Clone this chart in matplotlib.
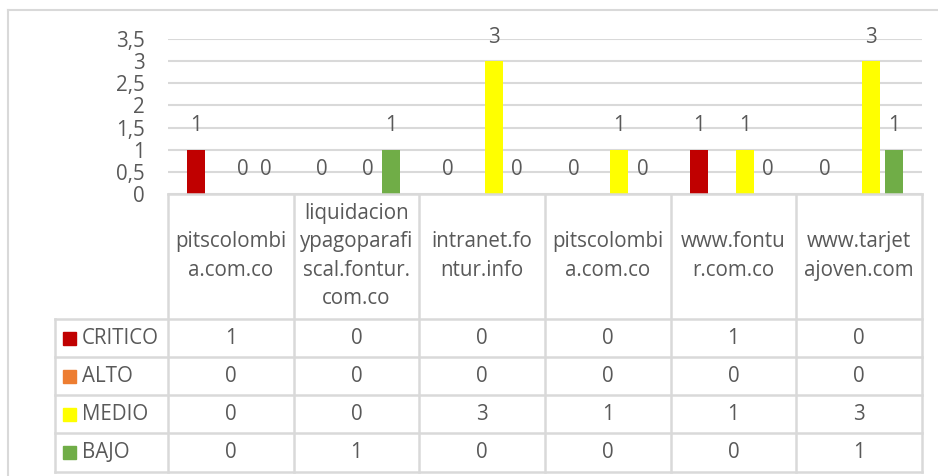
import matplotlib.pyplot as plt
import numpy as np
from matplotlib.lines import Line2D
from matplotlib.patches import Rectangle
from matplotlib.ticker import FuncFormatter

# datos del gráfico
sitios = ['pitscolombi\na.com.co', 'liquidacion\nypagoparafi\nscal.fontur.\ncom.co',
          'intranet.fo\nntur.info', 'pitscolombi\na.com.co', 'www.fontu\nr.com.co',
          'www.tarjet\najoven.com']
niveles = ['CRITICO', 'ALTO', 'MEDIO', 'BAJO']
critico = [1, 0, 0, 0, 1, 0]
alto = [0, 0, 0, 0, 0, 0]
medio = [0, 0, 3, 1, 1, 3]
bajo = [0, 1, 0, 0, 0, 1]
colores = ['#C00000', '#ED7D31', '#FFFF00', '#70AD47']
con_etiqueta = [True, False, True, True]

series = [critico, alto, medio, bajo]

W, H = 938, 476
gris = '#595959'
linea = '#D9D9D9'
plt.rcParams['font.family'] = ['Open Sans', 'DejaVu Sans']
fs = 14.8


def caja(l, t, r, b):
    return [l / W, 1 - b / H, (r - l) / W, (b - t) / H]


fig = plt.figure(figsize=(W / 100, H / 100), dpi=100)

# borde del área del gráfico
fig.add_artist(Line2D([8 / W, 8 / W], [0, 1 - 10 / H], color=linea, lw=1.5))
fig.add_artist(Line2D([8 / W, 1], [1 - 10 / H, 1 - 10 / H], color=linea, lw=1.5))

# barras
ax = fig.add_axes(caja(168, 39, 922, 194))
x = np.arange(len(sitios))
paso = 0.183
ancho = 0.143
for i, (vals, col) in enumerate(zip(series, colores)):
    pos = x + (i - 1.5) * paso
    ax.bar(pos, vals, width=ancho, color=col, zorder=3)
    if con_etiqueta[i]:
        for px, v in zip(pos, vals):
            ax.annotate(str(v), (px, v), xytext=(0, 17.3), textcoords='offset points',
                        ha='center', va='center', color=gris, fontsize=fs,
                        annotation_clip=False, zorder=4)

ax.set_xlim(-0.5, len(sitios) - 0.5)
ax.set_ylim(0, 3.5)
ax.set_yticks(np.arange(0, 3.51, 0.5))
ax.yaxis.set_major_formatter(FuncFormatter(lambda v, p: f'{v:g}'.replace('.', ',')))
ax.tick_params(axis='y', length=0, pad=16.5, labelcolor=gris, labelsize=fs)
ax.set_xticks([])
ax.grid(axis='y', color=linea, lw=1.5, zorder=0)
for s in ax.spines.values():
    s.set_visible(False)
ax.patch.set_alpha(0)

# tabla de datos
tx = fig.add_axes(caja(55, 194, 922, 472))
izq = -0.5 - 113 / 125.67
tx.set_xlim(izq, len(sitios) - 0.5)
tx.set_ylim(472, 194)
tx.axis('off')

filas = [319, 357, 395, 433, 472]
for k in range(len(sitios) + 1):
    tx.plot([k - 0.5, k - 0.5], [194, 472], color=linea, lw=1.8, clip_on=False)
tx.plot([izq, izq], [319, 472], color=linea, lw=1.8, clip_on=False)
tx.plot([-0.5, len(sitios) - 0.5], [194, 194], color=linea, lw=1.8, clip_on=False)
for yy in filas:
    tx.plot([izq, len(sitios) - 0.5], [yy, yy], color=linea, lw=1.8, clip_on=False)

for k, s in enumerate(sitios):
    tx.text(k, 256, s, ha='center', va='center', color=gris, fontsize=fs,
            linespacing=1.45)

for r, (nom, vals, col) in enumerate(zip(niveles, series, colores)):
    yc = (filas[r] + filas[r + 1]) / 2
    tx.add_patch(Rectangle((izq + 8 / 125.67, yc - 6.5), 13 / 125.67, 13,
                           color=col, clip_on=False))
    tx.text(izq + 27 / 125.67, yc, nom, ha='left', va='center', color=gris, fontsize=fs)
    for k, v in enumerate(vals):
        tx.text(k, yc, str(v), ha='center', va='center', color=gris, fontsize=fs)

fig.savefig('out.png', dpi=100)
